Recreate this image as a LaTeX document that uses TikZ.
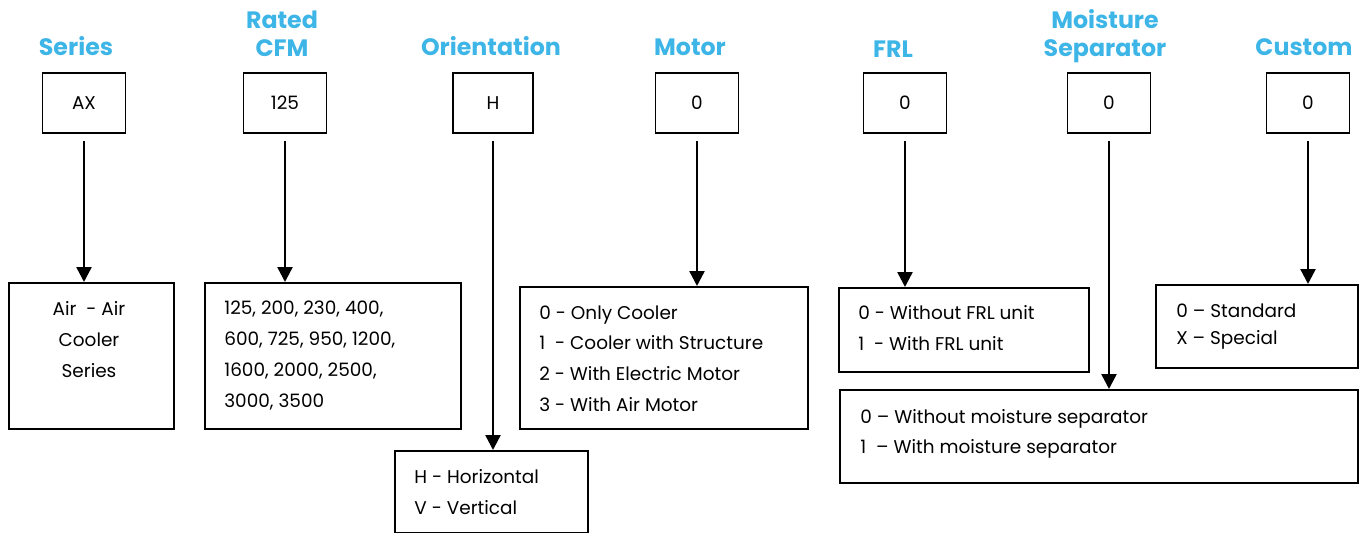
\documentclass[tikz,border=0pt]{standalone}
\usepackage{fontspec}
\setmainfont{Poppins}
\usepackage{xcolor}
\usetikzlibrary{arrows.meta}
\definecolor{headblue}{HTML}{3DB5E6}

\tikzset{
	codebox/.style={draw, line width=1.1pt, minimum width=1.66cm, minimum height=1.2cm, font=\fontsize{10.5}{12}\selectfont},
	headtxt/.style={text=headblue, font=\fontsize{13.5}{16}\selectfont\bfseries, align=center, inner sep=0pt},
	optbox/.style={draw, line width=1.1pt, anchor=north west, inner sep=0pt},
	opttxt/.style={anchor=north west, align=left, inner sep=0pt, font=\fontsize{10.5}{17.6}\selectfont},
	pick/.style={line width=1.4pt, -{Triangle[width=8.5pt,length=8.5pt]}, shorten <=4pt}
}

\begin{document}
\begin{tikzpicture}[x=0.02cm, y=-0.02cm]
	\useasboundingbox (0,0) rectangle (1359,533);
	
	%HEADINGS
	\node[headtxt, anchor=base] (hser) at (76,56) {Series};
	\node[headtxt, anchor=base] (hcfm) at (282,57) {Rated\\CFM};
	\node[headtxt, anchor=base] (hori) at (491,56) {Orientation};
	\node[headtxt, anchor=base] (hmot) at (690,56) {Motor};
	\node[headtxt, anchor=base] (hfrl) at (893,58) {FRL};
	\node[headtxt, anchor=base] (hmst) at (1105,57) {Moisture\\Separator};
	\node[headtxt, anchor=base] (hcus) at (1304,56) {Custom};
	
	%CODE
	\node[codebox] (ax) at (84,103) {AX};
	\node[codebox] (cfm) at (285,103) {125};
	\node[codebox, minimum width=1.6cm] (ori) at (493,103) {H};
	\node[codebox] (mot) at (697,103) {0};
	\node[codebox] (frl) at (905,103) {0};
	\node[codebox] (mst) at (1109,103) {0};
	\node[codebox] (cus) at (1308,103) {0};
	
	%OPTIONS
	\node[optbox, minimum width=3.3cm, minimum height=2.92cm] (serbox) at (8,282) {};
	\node[opttxt, anchor=north, align=center] (sertxt) at (89,301) {Air\ \ - Air\\Cooler\\Series};
	
	\node[optbox, minimum width=5.12cm, minimum height=2.92cm] (cfmbox) at (204,282) {};
	\node[opttxt] (cfmtxt) at (224,301) {125, 200, 230, 400,\\600, 725, 950, 1200,\\1600, 2000, 2500,\\3000, 3500};
	
	\node[optbox, minimum width=3.86cm, minimum height=1.64cm] (oribox) at (394,450) {};
	\node[opttxt] (oritxt) at (414,469) {H - Horizontal\\V - Vertical};
	
	\node[optbox, minimum width=5.76cm, minimum height=2.84cm] (motbox) at (519,286) {};
	\node[opttxt] (mottxt) at (539,305) {0 - Only Cooler\\1\ \ - Cooler with Structure\\2 - With Electric Motor\\3 - With Air Motor};
	
	\node[optbox, minimum width=5.0cm, minimum height=1.68cm] (frlbox) at (838,287) {};
	\node[opttxt] (frltxt) at (858,305) {0 - Without FRL unit\\1\ \ - With FRL unit};
	
	\node[optbox, minimum width=4.04cm, minimum height=1.66cm] (cusbox) at (1155,284) {};
	\node[opttxt, font=\fontsize{10.5}{15.5}\selectfont] (custxt) at (1176,303) {0 -- Standard\\X -- Special};
	
	\node[optbox, minimum width=10.36cm, minimum height=1.86cm] (mstbox) at (839,389) {};
	\node[opttxt, font=\fontsize{10.5}{17}\selectfont] (msttxt) at (860,409) {0 -- Without moisture separator\\1\ \ -- With moisture separator};
	
	%ARROWS
	\draw[pick] (ax.south) -- (ax.south |- serbox.north);
	\draw[pick] (cfm.south) -- (cfm.south |- cfmbox.north);
	\draw[pick] (ori.south) -- (ori.south |- oribox.north);
	\draw[pick] (mot.south) -- (mot.south |- motbox.north);
	\draw[pick] (frl.south) -- (frl.south |- frlbox.north);
	\draw[pick] (mst.south) -- (mst.south |- mstbox.north);
	\draw[pick] (cus.south) -- (cus.south |- cusbox.north);
	
\end{tikzpicture}
\end{document}
